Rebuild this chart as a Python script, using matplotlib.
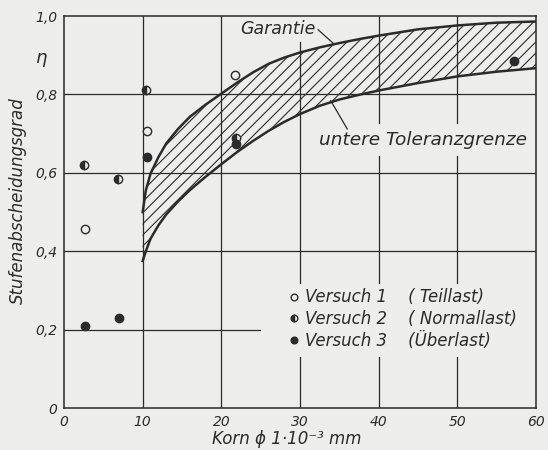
import matplotlib
matplotlib.use("Agg")
import matplotlib.pyplot as plt
from matplotlib.patches import Rectangle

# ---- data ----
curve_x = [10, 10.4, 11, 12, 13, 14.5, 16, 18, 20, 22, 24, 26, 28, 30,
           32.5, 35, 37.5, 40, 45, 50, 55, 60]
garantie = [0.50, 0.555, 0.598, 0.640, 0.675, 0.712, 0.743, 0.774, 0.802,
            0.830, 0.856, 0.878, 0.894, 0.907, 0.920, 0.931, 0.941, 0.950,
            0.966, 0.976, 0.983, 0.986]
toleranz = [0.375, 0.400, 0.432, 0.466, 0.494, 0.527, 0.556, 0.590, 0.622,
            0.653, 0.681, 0.707, 0.730, 0.750, 0.771, 0.787, 0.799, 0.810,
            0.829, 0.846, 0.858, 0.867]

v1_x = [2.7, 10.5, 21.7]
v1_y = [0.457, 0.707, 0.850]
v2_x = [2.6, 6.8, 10.4, 21.8]
v2_y = [0.620, 0.585, 0.810, 0.690]
v3_x = [2.7, 7.0, 10.6, 21.8, 57.2]
v3_y = [0.210, 0.230, 0.640, 0.673, 0.885]

x_ticks = [0, 10, 20, 30, 40, 50, 60]
y_ticks = [0, 0.2, 0.4, 0.6, 0.8, 1.0]
y_ticklabels = ["0", "0,2", "0,4", "0,6", "0,8", "1,0"]
legend_labels = ["Versuch 1    ( Teillast)", "Versuch 2    ( Normallast)",
                 "Versuch 3    (Überlast)"]

BG = "#ededeb"
INK = "#2b2b2b"
plt.rcParams['font.family'] = ['DejaVu Sans']
plt.rcParams['font.style'] = 'italic'
plt.rcParams['hatch.linewidth'] = 0.8

fig = plt.figure(figsize=(5.48, 4.5), dpi=100, facecolor=BG)
ax = fig.add_axes([0.1168, 0.0933, 0.8614, 0.8711], facecolor=BG)
ax.set_xlim(0, 60)
ax.set_ylim(0, 1.0)

for x in x_ticks[1:-1]:
    ax.axvline(x, color=INK, lw=0.9, zorder=1)
for y in y_ticks[1:-1]:
    ax.axhline(y, color=INK, lw=0.9, zorder=1)

# mask behind legend (as in the original drawing)
ax.add_patch(Rectangle((0.417, 0.130), 0.6, 0.186, transform=ax.transAxes,
                       facecolor=BG, edgecolor='none', zorder=1.5))

ax.fill_between(curve_x, toleranz, garantie, facecolor='none', edgecolor=INK,
                linewidth=0, hatch='///', zorder=3)
ax.plot(curve_x, garantie, color=INK, lw=1.8, zorder=4)
ax.plot(curve_x, toleranz, color=INK, lw=1.8, zorder=4)

ms = 6
ax.plot(v1_x, v1_y, 'o', ls='none', ms=ms, mfc=BG, mec=INK, mew=1.0, zorder=5,
        label=legend_labels[0])
ax.plot(v2_x, v2_y, 'o', ls='none', ms=ms, fillstyle='left', mfc=INK,
        mfcalt=BG, mec=INK, mew=1.0, zorder=5, label=legend_labels[1])
ax.plot(v3_x, v3_y, 'o', ls='none', ms=ms, mfc=INK, mec=INK, mew=1.0, zorder=5,
        label=legend_labels[2])

ax.text(22.4, 0.967, "Garantie", fontsize=12.5, color=INK, va='center',
        ha='left', bbox=dict(facecolor=BG, edgecolor='none', pad=3), zorder=2)
ax.plot([32.3, 34.3], [0.965, 0.929], color=INK, lw=0.9, zorder=6)
ax.text(32.4, 0.683, "untere Toleranzgrenze", fontsize=13.3, color=INK,
        va='center', ha='left', bbox=dict(facecolor=BG, edgecolor='none', pad=5),
        zorder=2)
ax.plot([36.0, 33.9], [0.712, 0.784], color=INK, lw=0.9, zorder=6)

leg = ax.legend(loc='upper left', bbox_to_anchor=(0.455, 0.322), frameon=False,
                fontsize=12, handletextpad=0.2, handlelength=1.0,
                labelspacing=0.22, markerscale=0.8, borderaxespad=0)
for t in leg.get_texts():
    t.set_color(INK)
leg.set_zorder(7)

ax.set_xticks(x_ticks)
ax.set_xticklabels([str(v) for v in x_ticks])
ax.set_yticks(y_ticks)
ax.set_yticklabels(y_ticklabels)
ax.tick_params(length=0, labelsize=10, colors=INK, pad=5)
for s in ax.spines.values():
    s.set_color(INK)
    s.set_linewidth(1.1)

ax.set_ylabel("Stufenabscheidungsgrad", fontsize=12, color=INK)
ax.yaxis.set_label_coords(-0.078, 0.53)
ax.set_xlabel("Korn ϕ 1·10⁻³ mm", fontsize=12, color=INK)
ax.xaxis.set_label_coords(0.472, -0.055)
ax.text(-0.047, 0.893, "η", transform=ax.get_yaxis_transform(), fontsize=13,
        color=INK, ha='center', va='center')

fig.savefig("out.png", dpi=100, facecolor=BG)
